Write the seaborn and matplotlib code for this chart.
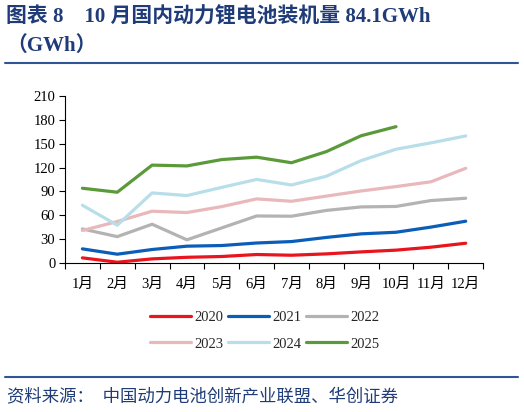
import matplotlib
matplotlib.use("Agg")
import matplotlib.pyplot as plt
import seaborn as sns
import pandas as pd
import numpy as np

months = ["1月", "2月", "3月", "4月", "5月", "6月", "7月", "8月", "9月", "10月", "11月", "12月"]
years = ["2020", "2021", "2022", "2023", "2024", "2025"]
v2020 = [6.3, 0.8, 5.0, 7.0, 8.0, 10.5, 9.6, 11.3, 13.8, 16.0, 19.7, 24.7]
v2021 = [17.6, 10.9, 16.8, 21.0, 21.8, 25.0, 26.8, 32.0, 36.5, 38.5, 45.0, 52.4]
v2022 = [42.7, 33.0, 48.6, 29.0, 44.0, 59.0, 58.7, 66.0, 70.4, 71.0, 78.4, 81.3]
v2023 = [40.7, 52.0, 65.0, 63.3, 70.8, 80.5, 77.5, 84.0, 90.5, 96.0, 102.0, 119.0]
v2024 = [72.5, 47.4, 88.0, 84.7, 95.0, 105.0, 98.0, 109.0, 128.7, 143.0, 151.0, 159.7]
v2025 = [93.9, 88.9, 123.0, 122.0, 130.0, 133.0, 126.0, 140.0, 160.0, 171.4]
series = [v2020, v2021, v2022, v2023, v2024, v2025]
colors = ["#E8141E", "#0A5EB8", "#B3B3B3", "#E8B8BA", "#B8DEEA", "#5B9A3A"]
yticks = [0, 30, 60, 90, 120, 150, 180, 210]

rows = []
for y, vals in zip(years, series):
    for i, v in enumerate(vals):
        rows.append({"month": i, "value": v, "year": y})
df = pd.DataFrame(rows)

sns.set_theme(style="white")
plt.rcParams['font.family'] = ['Liberation Serif', 'Noto Sans CJK SC']

fig = plt.figure(figsize=(5.24, 4.12), dpi=100)
ax = fig.add_axes([0.124, 0.362, 0.798, 0.405])

sns.lineplot(data=df, x="month", y="value", hue="year", palette=colors,
             linewidth=2.3, ax=ax, legend=True)

ax.set_xlim(-0.5, 11.5)
ax.set_ylim(0, 210)
ax.set_yticks(yticks)
ax.set_yticklabels([str(t) for t in yticks], fontsize=10.5, color="#000000")
ax.set_xticks(range(12))
ax.set_xticklabels(months, fontsize=10.5, color="#000000")
ax.set_xticks(np.arange(-0.5, 12, 1), minor=True)
ax.tick_params(axis="x", which="major", length=0, pad=11)
ax.tick_params(axis="x", which="minor", length=4, width=0.8, color="#000000", direction="out", bottom=True)
ax.tick_params(axis="y", which="major", length=4, width=0.8, color="#000000", direction="out", left=True, pad=3)
ax.set_xlabel("")
ax.set_ylabel("")
for s in ["top", "right"]:
    ax.spines[s].set_visible(False)
for s in ["left", "bottom"]:
    ax.spines[s].set_color("#000000")
    ax.spines[s].set_linewidth(0.8)

handles, labels = ax.get_legend_handles_labels()
order = [0, 3, 1, 4, 2, 5]
ax.legend([handles[i] for i in order], [labels[i] for i in order], ncol=3,
          loc="upper center", bbox_to_anchor=(0.505, 0.277),
          bbox_transform=fig.transFigure, frameon=False, fontsize=10.5,
          handlelength=2.8, handletextpad=0.2, columnspacing=0.35, labelspacing=0.9)

title_color = "#1F3C78"
fig.text(0.012, 0.957, "图表 8    10 月国内动力锂电池装机量 84.1GWh", fontsize=15,
         fontweight="bold", color=title_color, va="center", ha="left")
fig.text(0.012, 0.889, "（GWh）", fontsize=15, fontweight="bold", color=title_color,
         va="center", ha="left")
fig.add_artist(plt.Line2D([0.01, 0.988], [0.847, 0.847], color="#2F5597", linewidth=1.5,
                          transform=fig.transFigure))
fig.add_artist(plt.Line2D([0.01, 0.988], [0.085, 0.085], color="#2F5597", linewidth=1.5,
                          transform=fig.transFigure))
fig.text(0.014, 0.036, "资料来源：  中国动力电池创新产业联盟、华创证券", fontsize=12.5,
         color="#1F3C78", style="italic", va="center", ha="left")

fig.savefig("out.png", dpi=100)
